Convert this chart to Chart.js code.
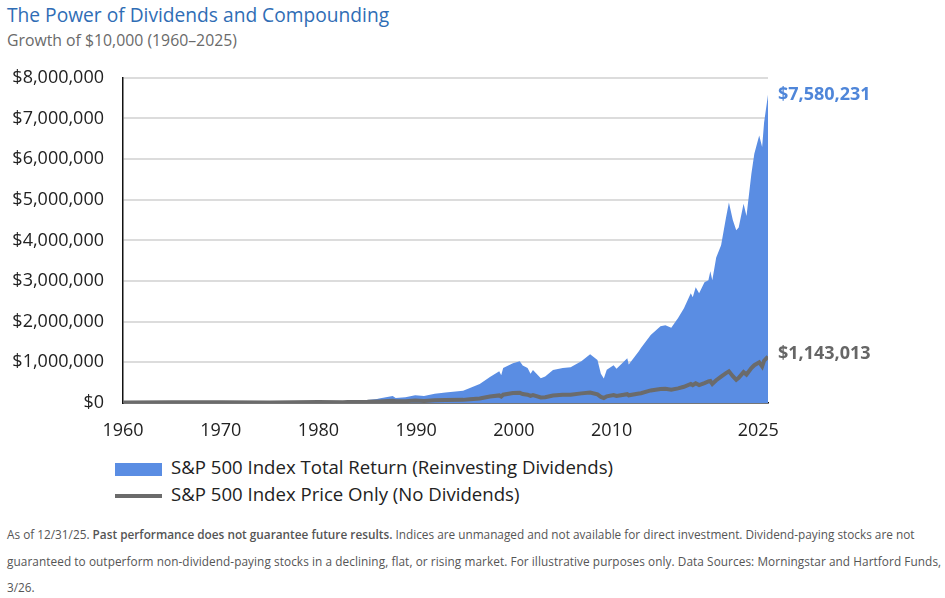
<!DOCTYPE html>
<html>
<head>
<meta charset="utf-8">
<script src="https://cdn.jsdelivr.net/npm/chart.js@4"></script>
<style>
  body { margin: 0; background: #fff; font-family: "Open Sans", sans-serif; }
  #wrap { position: relative; width: 945px; height: 598px; }
  #title { position: absolute; left: 7px; top: 1px; font-size: 19.2px; color: #2f6db5; }
  #subtitle { position: absolute; left: 7px; top: 29px; font-size: 15.8px; color: #6a6a6a; }
  #chartBox { position: absolute; left: 0; top: 48px; width: 945px; height: 400px; }
  .legend { position: absolute; left: 115px; font-size: 18.6px; color: #222; white-space: nowrap; }
  .legend span { display: inline-block; vertical-align: middle; margin-right: 9px; }
  #note { position: absolute; left: 7px; top: 521px; font-size: 11.8px; line-height: 26.5px; color: #555; white-space: nowrap; }
  #note b { font-weight: 600; }
  #note .l2 { letter-spacing: 0.07px; }
</style>
</head>
<body>
<div id="wrap">
  <div id="title">The Power of Dividends and Compounding</div>
  <div id="subtitle">Growth of $10,000 (1960–2025)</div>
  <div id="chartBox"><canvas id="myChart"></canvas></div>
  <div class="legend" style="top:454px"><span style="width:47px;height:13px;background:#5a8de3"></span>S&amp;P 500 Index Total Return (Reinvesting Dividends)</div>
  <div class="legend" style="top:481px"><span style="width:47px;height:4px;background:#6b6b6b"></span>S&amp;P 500 Index Price Only (No Dividends)</div>
  <div id="note">As of 12/31/25. <b>Past performance does not guarantee future results.</b> Indices are unmanaged and not available for direct investment. Dividend-paying stocks are not<br><span class="l2">guaranteed to outperform non-dividend-paying stocks in a declining, flat, or rising market. For illustrative purposes only. Data Sources: Morningstar and Hartford Funds,</span><br>3/26.</div>
</div>
<script>
// dates as fractional years, values in dollars
const years = [1960, 1965, 1970, 1975, 1980, 1982.5, 1983, 1984, 1985, 1986, 1986.2, 1987.6, 1987.9,
  1988.9, 1989.9, 1990.8, 1991.9, 1993, 1994.8, 1995.5, 1996.5, 1997.55, 1998.5, 1998.7, 1998.9,
  1999.9, 2000.6, 2000.9, 2001.4, 2001.7, 2001.95, 2002.75, 2003.2, 2004, 2005, 2005.8, 2006.9,
  2007.8, 2008.55, 2008.9, 2009.2, 2009.5, 2010.2, 2010.5, 2011.6, 2011.75, 2012.8, 2013, 2014,
  2015, 2015.5, 2016.1, 2016.8, 2017.4, 2018.1, 2018.3, 2018.6, 2018.95, 2019.5, 2019.9, 2020.1,
  2020.3, 2020.7, 2021.2, 2021.7, 2022, 2022.4, 2022.75, 2023, 2023.5, 2023.8, 2024.3, 2024.6,
  2025.1, 2025.4, 2025.6, 2026];

const totalReturn = [10000, 17000, 21000, 19000, 37000, 45000, 57000, 70000, 75000, 98000, 110000, 170000, 120000,
  140000, 190000, 170000, 230000, 260000, 300000, 370000, 470000, 640000, 780000, 680000, 860000,
  980000, 1030000, 920000, 860000, 720000, 810000, 610000, 650000, 810000, 860000, 880000, 1030000,
  1200000, 1060000, 720000, 600000, 820000, 930000, 840000, 1100000, 950000, 1280000, 1350000, 1670000,
  1890000, 1910000, 1850000, 2090000, 2330000, 2700000, 2600000, 2850000, 2700000, 2970000, 3020000, 3240000,
  3020000, 3580000, 3880000, 4560000, 4930000, 4500000, 4250000, 4320000, 4900000, 4600000, 5640000, 6130000,
  6580000, 6300000, 6900000, 7580231];

const priceOnly = [10000, 15400, 15400, 15100, 22700, 18400, 23500, 27500, 27900, 35300, 36000, 55000, 41000,
  46000, 59000, 51000, 70000, 73000, 77000, 91000, 110000, 159000, 187000, 160000, 205000,
  245000, 250000, 220000, 204000, 174000, 192000, 136000, 142000, 186000, 200000, 205000, 237000,
  259000, 212000, 150000, 124000, 164000, 195000, 172000, 217000, 189000, 235000, 240000, 309000,
  345000, 350000, 325000, 360000, 400000, 468000, 441000, 484000, 440000, 490000, 530000, 540000,
  470000, 561000, 651000, 735000, 780000, 660000, 570000, 620000, 760000, 700000, 860000, 930000,
  1000000, 900000, 1040000, 1143013];

const xTicks = [1960, 1970, 1980, 1990, 2000, 2010, 2025];
const yMax = 8000000;
const yStep = 1000000;

const money = v => '$' + Math.round(v).toLocaleString('en-US');

const endLabels = {
  id: 'endLabels',
  afterDatasetsDraw(chart) {
    const c = chart.ctx;
    c.save();
    c.font = 'bold 18px "Open Sans"';
    c.textBaseline = 'middle';
    chart.data.datasets.forEach((ds, i) => {
      const pts = chart.getDatasetMeta(i).data;
      const last = pts[pts.length - 1];
      c.fillStyle = ds.labelColor;
      c.fillText(money(ds.data[ds.data.length - 1].y), chart.chartArea.right + 10, last.y + ds.labelShift);
    });
    c.restore();
  }
};

const ctx = document.getElementById('myChart');

new Chart(ctx, {
  type: 'line',
  data: {
    datasets: [{
      label: 'S&P 500 Index Price Only (No Dividends)',
      data: years.map((x, i) => ({ x: x, y: priceOnly[i] })),
      borderColor: '#6b6b6b',
      borderWidth: 4,
      pointRadius: 0,
      fill: false,
      labelColor: '#666666',
      labelShift: -3
    }, {
      label: 'S&P 500 Index Total Return (Reinvesting Dividends)',
      data: years.map((x, i) => ({ x: x, y: totalReturn[i] })),
      borderWidth: 0,
      borderColor: '#5a8de3',
      backgroundColor: '#5a8de3',
      pointRadius: 0,
      fill: 'origin',
      labelColor: '#4f86d9',
      labelShift: 0
    }]
  },
  options: {
    responsive: true,
    maintainAspectRatio: false,
    animation: false,
    layout: { padding: { left: 0, right: 177, top: 16, bottom: 0 } },
    plugins: { legend: { display: false }, tooltip: { enabled: false } },
    scales: {
      x: {
        type: 'linear',
        min: 1960,
        max: 2026,
        afterBuildTicks: s => { s.ticks = xTicks.map(v => ({ value: v })); },
        afterFit: s => { s.height = 45; },
        grid: { display: false, drawTicks: false },
        border: { display: true, color: '#111', width: 1.5 },
        ticks: { padding: 17, color: '#222', font: { family: 'Open Sans', size: 18 }, callback: v => String(v), maxRotation: 0 }
      },
      y: {
        min: 0,
        max: yMax,
        afterFit: s => { s.width = 123; },
        grid: { color: '#dcdcdc', lineWidth: 2, drawTicks: false },
        border: { display: true, color: '#111', width: 1.5 },
        ticks: { stepSize: yStep, padding: 19, color: '#222', font: { family: 'Open Sans', size: 18 }, callback: v => money(v) }
      }
    }
  },
  plugins: [endLabels]
});
</script>
</body>
</html>
